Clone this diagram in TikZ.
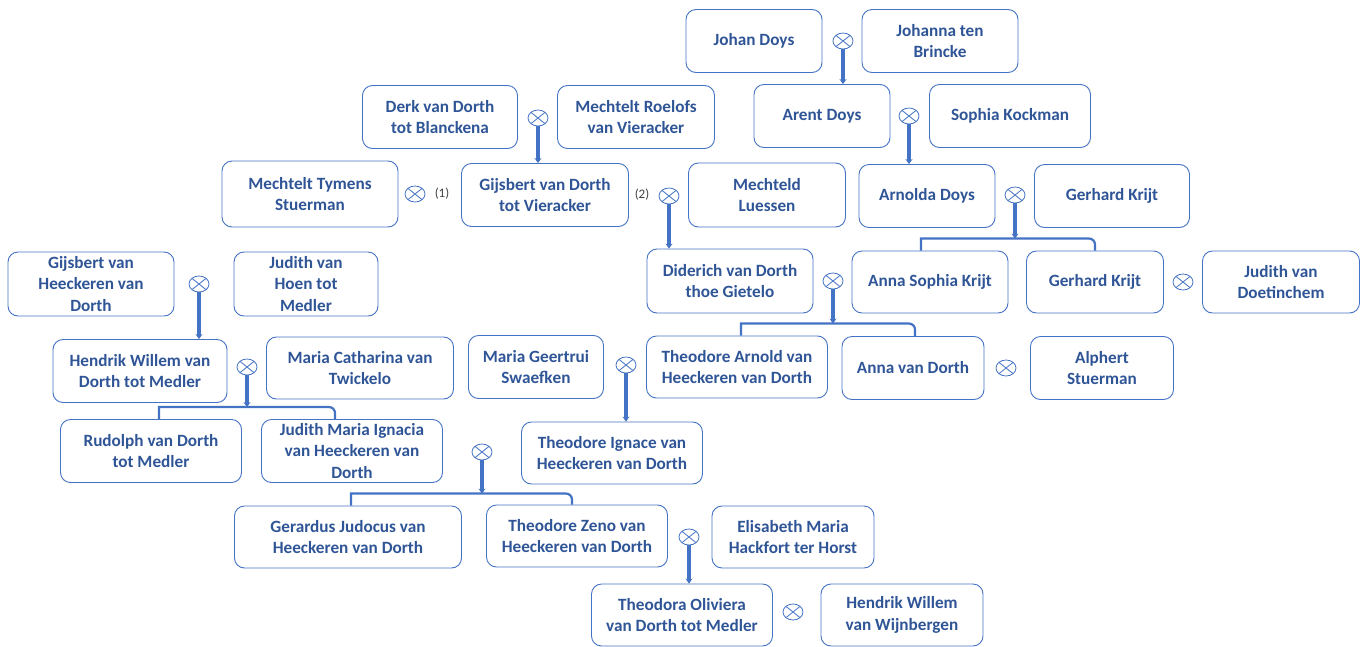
\documentclass[tikz,border=0pt]{standalone}
\usepackage{fontspec}
\setmainfont{Carlito}
\usepackage{tikz}
\usetikzlibrary{arrows.meta,shapes.geometric}

\definecolor{lineblue}{RGB}{68,114,196}
\definecolor{nameblue}{RGB}{47,85,151}

\begin{document}
\begin{tikzpicture}[x=1pt, y=-1pt,
        person/.style={draw=lineblue, line width=0.9pt, rounded corners=10pt, minimum height=63pt,
            inner sep=2pt, align=center, text=nameblue, font=\bfseries\fontsize{17.2}{21.5}\selectfont},
        wed/.style={draw=lineblue, line width=0.8pt, ellipse, minimum width=20pt, minimum height=16pt, inner sep=0pt,
            path picture={\draw[lineblue, line width=0.8pt] (path picture bounding box.north west) -- (path picture bounding box.south east)
                (path picture bounding box.north east) -- (path picture bounding box.south west);}},
        stem/.style={draw=lineblue, line width=3.4pt, -{Stealth[length=5pt, width=7pt]}},
        bar/.style={draw=lineblue, line width=2.2pt},
        nr/.style={text=black!75, font=\fontsize{13}{14}\selectfont, inner sep=0pt}]
        \useasboundingbox[fill=white] (0,0) rectangle (1366,646);

        % Doys
        \node[person, minimum width=136pt] (johan) at (754, 41) {Johan Doys};
        \node[person, minimum width=156pt] (johanna) at (940, 41) {Johanna ten\\Brincke};
        \node[person, minimum width=136pt] (arent) at (822, 116) {Arent Doys};
        \node[person, minimum width=161pt] (sophia) at (1010, 116) {Sophia Kockman};
        \node[person, minimum width=136pt] (arnolda) at (927, 196) {Arnolda Doys};
        \node[person, minimum width=155pt] (gerhard) at (1112, 196) {Gerhard Krijt};
        \node[wed] (w1) at (843, 41) {};
        \node[wed] (w2) at (909, 116) {};
        \node[wed] (w3) at (1015, 195) {};

        % van Dorth
        \node[person, minimum width=155pt] (derk) at (440, 117) {Derk van Dorth\\tot Blanckena};
        \node[person, minimum width=157pt] (roelofs) at (636, 117) {Mechtelt Roelofs\\van Vieracker};
        \node[person, minimum width=176pt, minimum height=66pt] (tymens) at (310, 194) {Mechtelt Tymens\\Stuerman};
        \node[person, minimum width=167pt] (gijsbert) at (545, 195) {Gijsbert van Dorth\\tot Vieracker};
        \node[person, minimum width=157pt, minimum height=64pt] (luessen) at (767, 195) {Mechteld\\Luessen};
        \node[wed] (w4) at (538, 118) {};
        \node[wed] (w5) at (415, 194) {};
        \node[nr] (n1) at (442, 194) {(1)};
        \node[nr] (n2) at (642, 195) {(2)};
        \node[wed] (w6) at (669, 196) {};

        \node[person, minimum width=166pt, minimum height=64pt] (diderich) at (730, 281) {Diderich van Dorth\\thoe Gietelo};
        \node[person, minimum width=156pt, minimum height=62pt] (annas) at (930, 282) {Anna Sophia Krijt};
        \node[person, minimum width=137pt, minimum height=62pt] (gerhardk) at (1095, 282) {Gerhard Krijt};
        \node[person, minimum width=157pt, minimum height=62pt] (doetinchem) at (1281, 282) {Judith van\\Doetinchem};
        \node[wed] (w7) at (833, 281) {};
        \node[wed] (w8) at (1183, 282) {};

        % van Heeckeren
        \node[person, minimum width=166pt, minimum height=64pt] (gijsbertvh) at (91, 284) {Gijsbert van\\Heeckeren van\\Dorth};
        \node[person, minimum width=144pt, minimum height=64pt] (hoen) at (306, 284) {Judith van\\Hoen tot\\Medler};
        \node[wed] (w9) at (199, 284) {};
        \node[person, minimum width=174pt] (hendrik) at (140, 371) {Hendrik Willem van\\Dorth tot Medler};
        \node[person, minimum width=187pt, minimum height=62pt] (twickelo) at (360, 368) {Maria Catharina van\\Twickelo};
        \node[wed] (w10) at (247, 367) {};
        \node[person, minimum width=181pt] (rudolph) at (151, 451) {Rudolph van Dorth\\tot Medler};
        \node[person, minimum width=181pt] (judithm) at (352, 451) {Judith Maria Ignacia\\van Heeckeren van\\Dorth};

        \node[person, minimum width=135pt] (geertrui) at (536, 367) {Maria Geertrui\\Swaefken};
        \node[person, minimum width=181pt, minimum height=62pt] (theoA) at (737, 367) {Theodore Arnold van\\Heeckeren van Dorth};
        \node[person, minimum width=142pt] (annavd) at (913, 368) {Anna van Dorth};
        \node[person, minimum width=143pt] (alphert) at (1102, 368) {Alphert\\Stuerman};
        \node[wed] (w11) at (626, 365) {};
        \node[wed] (w12) at (1006, 368) {};
        \node[person, minimum width=181pt, minimum height=62pt] (theoI) at (612, 453) {Theodore Ignace van\\Heeckeren van Dorth};
        \node[wed] (w13) at (482, 452) {};

        \node[person, minimum width=227pt, minimum height=62pt] (gerardus) at (348, 537) {Gerardus Judocus van\\Heeckeren van Dorth};
        \node[person, minimum width=181pt, minimum height=62pt] (zeno) at (577, 536) {Theodore Zeno van\\Heeckeren van Dorth};
        \node[person, minimum width=162pt, minimum height=62pt] (hackfort) at (793, 537) {Elisabeth Maria\\Hackfort ter Horst};
        \node[wed] (w14) at (689, 537) {};
        \node[person, minimum width=181pt, minimum height=62pt] (theodora) at (682, 615) {Theodora Oliviera\\van Dorth tot Medler};
        \node[person, minimum width=162pt, minimum height=62pt] (wijnbergen) at (902, 615) {Hendrik Willem\\van Wijnbergen};
        \node[wed] (w15) at (793, 612) {};

        % single children
        \draw[stem] (w1) -- (w1 |- arent.north);
        \draw[stem] (w2) -- (w2 |- arnolda.north);
        \draw[stem] (w4) -- (w4 |- gijsbert.north);
        \draw[stem] (w6) -- (w6 |- diderich.north);
        \draw[stem] (w9) -- (w9 |- hendrik.north);
        \draw[stem] (w11) -- (w11 |- theoI.north);
        \draw[stem] (w14) -- (w14 |- theodora.north);

        % two children
        \coordinate (j3) at ([yshift=12pt]w3 |- annas.north);
        \coordinate (j7) at ([yshift=12pt]w7 |- theoA.north);
        \coordinate (j10) at ([yshift=12pt]w10 |- rudolph.north);
        \coordinate (j13) at ([yshift=12pt]w13 |- gerardus.north);
        \draw[stem] (w3) -- (j3);
        \draw[stem] (w7) -- (j7);
        \draw[stem] (w10) -- (j10);
        \draw[stem] (w13) -- (j13);
        \draw[bar] ([xshift=-9pt]annas.north) |- (j3) [rounded corners=6pt] -| (gerhardk.north);
        \draw[bar] ([xshift=4pt]theoA.north) |- (j7) [rounded corners=6pt] -| ([xshift=2pt]annavd.north);
        \draw[bar] ([xshift=8pt]rudolph.north) |- (j10) [rounded corners=6pt] -| ([xshift=-17pt]judithm.north);
        \draw[bar] ([xshift=3pt]gerardus.north) |- (j13) [rounded corners=6pt] -| ([xshift=-5pt]zeno.north);
    \end{tikzpicture}
\end{document}
